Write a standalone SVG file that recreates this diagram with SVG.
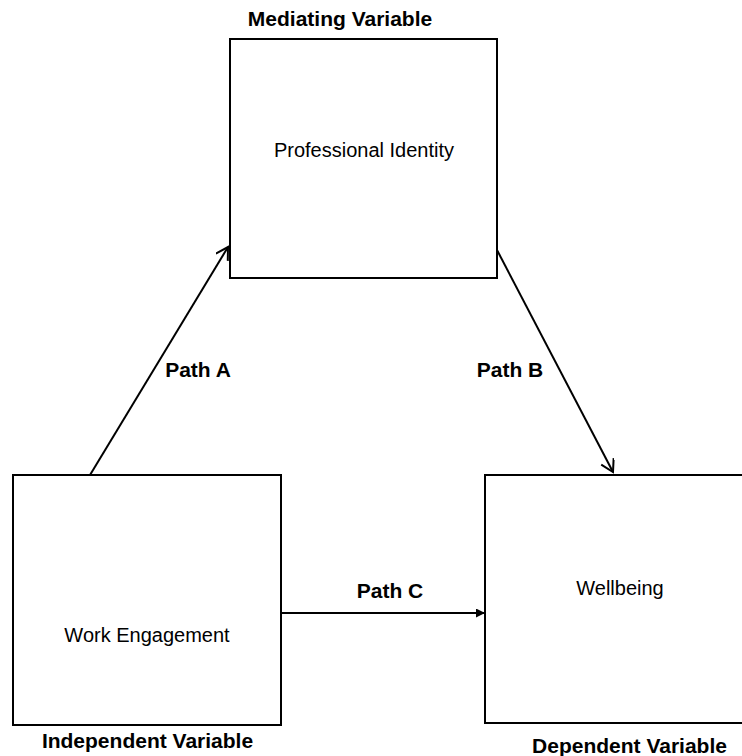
<svg xmlns="http://www.w3.org/2000/svg" width="742" height="756" viewBox="0 0 742 756">
  <style>
    .box { fill: #ffffff; stroke: #000000; stroke-width: 2; }
    .conn { fill: none; stroke: #000000; stroke-width: 2; }
    .lbl { font-family: "Liberation Sans", Arial, sans-serif; font-size: 20px; fill: #000000; }
    .bold { font-family: "Liberation Sans", Arial, sans-serif; font-size: 21px; font-weight: bold; fill: #000000; }
  </style>
  <defs>
    <marker id="open" markerUnits="userSpaceOnUse" markerWidth="16" markerHeight="16" refX="14" refY="7" orient="auto">
      <path d="M2,0 L14,7 L2,14" fill="none" stroke="#000000" stroke-width="2"/>
    </marker>
    <marker id="solid" markerUnits="userSpaceOnUse" markerWidth="10" markerHeight="10" refX="9" refY="4.5" orient="auto">
      <path d="M0,0 L9,4.5 L0,9 z" fill="#000000"/>
    </marker>
  </defs>
  <rect width="742" height="756" fill="#ffffff"/>

  <g id="mediator">
    <rect class="box" x="230" y="39" width="267" height="239"/>
    <text class="lbl" x="364" y="157" text-anchor="middle">Professional Identity</text>
    <text class="bold" x="340" y="26" text-anchor="middle">Mediating Variable</text>
  </g>

  <g id="independent">
    <rect class="box" x="13" y="475" width="268" height="250"/>
    <text class="lbl" x="147" y="642" text-anchor="middle">Work Engagement</text>
    <text class="bold" x="147.5" y="748" text-anchor="middle">Independent Variable</text>
  </g>

  <g id="dependent">
    <rect class="box" x="485" y="475" width="262" height="248"/>
    <text class="lbl" x="620" y="595" text-anchor="middle">Wellbeing</text>
    <text class="bold" x="629.5" y="753" text-anchor="middle">Dependent Variable</text>
  </g>

  <g id="connectors">
    <line class="conn" x1="90" y1="475" x2="228" y2="247" marker-end="url(#open)"/>
    <line class="conn" x1="497" y1="250" x2="613" y2="472" marker-end="url(#open)"/>
    <line class="conn" x1="281" y1="613" x2="485" y2="613" marker-end="url(#solid)"/>
    <text class="bold" x="198" y="377" text-anchor="middle">Path A</text>
    <text class="bold" x="510" y="377" text-anchor="middle">Path B</text>
    <text class="bold" x="390" y="598" text-anchor="middle">Path C</text>
  </g>
</svg>
